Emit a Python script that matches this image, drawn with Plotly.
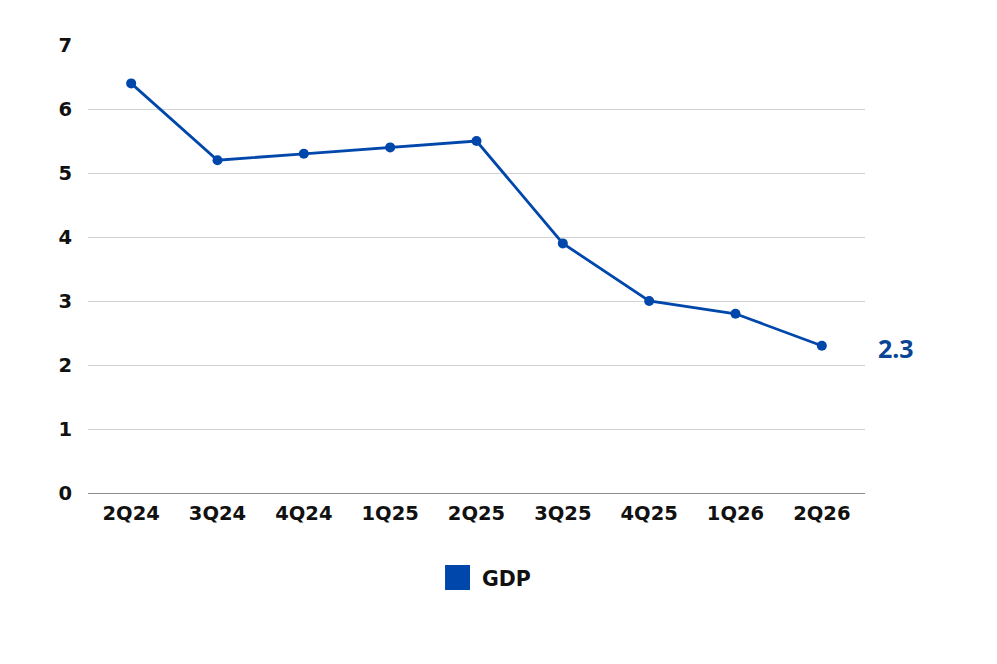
import plotly.graph_objects as go

quarters = ["2Q24", "3Q24", "4Q24", "1Q25", "2Q25", "3Q25", "4Q25", "1Q26", "2Q26"]
gdp = [6.4, 5.2, 5.3, 5.4, 5.5, 3.9, 3.0, 2.8, 2.3]
y_ticks = [0, 1, 2, 3, 4, 5, 6, 7]

line_color = "#0047AB"
label_color = "#0A4595"
tick_font = dict(family="DejaVu Sans", size=19.5, color="#111111", weight="bold")

fig = go.Figure()

fig.add_trace(go.Scatter(
    x=quarters,
    y=gdp,
    mode="lines+markers",
    name="GDP",
    line=dict(color=line_color, width=2.8),
    marker=dict(color=line_color, size=10),
    showlegend=False,
    hoverinfo="x+y",
))

# last value label to the right of the line
fig.add_annotation(
    x=quarters[-1], y=gdp[-1],
    text=f"<b>{gdp[-1]}</b>",
    showarrow=False,
    xshift=74, yshift=-2,
    font=dict(family="Noto Sans", size=25, color=label_color),
)

# legend drawn by hand so the swatch can be a big square
fig.add_shape(
    type="rect", xref="paper", yref="paper",
    x0=0.4595, x1=0.4916, y0=-0.2165, y1=-0.1607,
    fillcolor=line_color, line=dict(width=0),
)
fig.add_annotation(
    xref="paper", yref="paper",
    x=0.507, y=-0.192,
    text="<b>GDP</b>", showarrow=False,
    xanchor="left", yanchor="middle",
    xshift=-2,
    font=dict(family="DejaVu Sans", size=20.5, color="#111111"),
)

# page body has an 8px margin, so the figure is a bit smaller than the window
fig.update_layout(
    width=981,
    height=648,
    margin=dict(l=80, r=124, t=37, b=163),
    plot_bgcolor="white",
    paper_bgcolor="white",
    showlegend=False,
)
fig.update_xaxes(
    type="category",
    range=[-0.5, len(quarters) - 0.5],
    showgrid=False,
    showline=True, linecolor="#8c8c8c", linewidth=1,
    ticks="", ticklabelstandoff=3,
    tickfont=tick_font,
)
fig.update_yaxes(
    range=[0, 7],
    tickvals=y_ticks,
    showgrid=True, gridcolor="#d3d3d3", gridwidth=1,
    zeroline=False,
    ticks="", ticklabelstandoff=15,
    tickfont=tick_font,
)

fig.write_html("out.html")
